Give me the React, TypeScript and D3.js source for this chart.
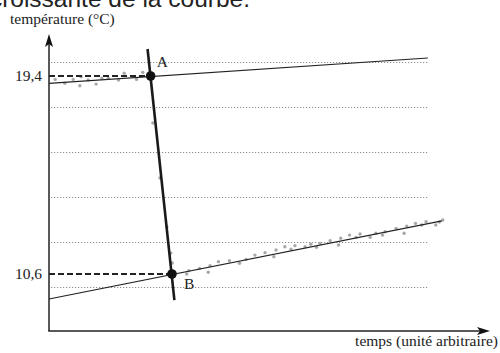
import * as d3 from "d3";
import { useRef, useEffect } from "react";

// temps en unités arbitraires, température en °C
const upperTimes = [1.4, 3.6, 5.5, 7.0, 7.3, 8.9, 10.7, 12.0, 13.5, 15.8, 17.1, 19.9, 21.3];
const upperTemps = [19.25, 19.08, 19.25, 18.97, 19.37, 19.22, 19.04, 19.3, 19.3, 19.22, 19.52, 19.25, 19.56];

const dropTimes = [23.6, 25.2, 26.8, 27.7, 28.0];
const dropTemps = [17.31, 14.87, 12.69, 11.53, 11.09];

const lowerTimes = [31.3, 31.8, 34.2, 36.2, 36.6, 38.5, 41.0, 43.3, 44.8, 46.8, 49.1, 51.1, 51.6, 53.6, 55.0, 55.9, 58.2, 59.5, 60.8, 61.6, 63.9, 65.8, 66.3, 68.3, 69.8, 70.7, 73.0, 74.3, 75.8, 76.4, 78.9, 80.7, 81.3, 83.3, 84.7, 85.7, 87.9, 88.7, 89.5];
const lowerTemps = [10.6, 10.75, 10.85, 10.68, 10.97, 11.15, 11.19, 11.08, 11.25, 11.44, 11.55, 11.37, 11.67, 11.81, 11.7, 11.86, 11.81, 11.92, 11.79, 11.96, 12.08, 11.89, 12.19, 12.33, 12.23, 12.38, 12.23, 12.41, 12.33, 12.48, 12.63, 12.41, 12.73, 12.85, 12.78, 12.92, 12.78, 12.91, 13.0];

// droites tracées
const upperFit = [[0, 19.07], [86.1, 20.2]];
const lowerFit = [[0, 9.49], [89.3, 12.96]];
const steepFit = [[22.4, 20.6], [28.5, 9.44]];

const gridTemps = [20, 18, 16, 14, 12, 10];
const pointA = { t: 23.1, T: 19.4, label: "A", tick: "19,4" };
const pointB = { t: 27.95, T: 10.6, label: "B", tick: "10,6" };

const width = 500;
const height = 353;
const serif = "'Liberation Serif', serif";

const App = () => {
    const ref = useRef<SVGSVGElement>(null);

    useEffect(() => {
        const svg = d3.select(ref.current);
        svg.selectAll("*").remove();

        const x = d3.scaleLinear().domain([0, 100]).range([49, 489]);
        const y = d3.scaleLinear().domain([10, 20]).range([287.5, 62.5]);
        const x0 = x(0);
        const yBottom = 331;

        // texte coupé en haut
        svg.append("text")
            .attr("x", 250).attr("y", 6.5)
            .attr("text-anchor", "end")
            .attr("font-family", "'Liberation Sans', Arial, sans-serif")
            .attr("font-size", 24.5)
            .attr("fill", "#222")
            .text("croissante de la courbe.");

        // lignes pointillées
        svg.append("g")
            .selectAll("line")
            .data(gridTemps)
            .enter()
            .append("line")
            .attr("x1", x(0.5)).attr("x2", x(86.1))
            .attr("y1", d => y(d)).attr("y2", d => y(d))
            .attr("stroke", "#777")
            .attr("stroke-width", 1)
            .attr("stroke-dasharray", "1 2");

        // axes
        svg.append("line")
            .attr("x1", x0).attr("x2", x0)
            .attr("y1", yBottom).attr("y2", 40)
            .attr("stroke", "#222").attr("stroke-width", 1.5);
        svg.append("line")
            .attr("x1", x0 - 0.75).attr("x2", 482)
            .attr("y1", yBottom).attr("y2", yBottom)
            .attr("stroke", "#222").attr("stroke-width", 1.5);
        svg.append("path")
            .attr("d", `M${x0},34 L${x0 + 4},47 L${x0},44 L${x0 - 4},47 Z`)
            .attr("fill", "#111");
        svg.append("path")
            .attr("d", `M490,${yBottom} L477,${yBottom - 4} L480,${yBottom} L477,${yBottom + 4} Z`)
            .attr("fill", "#111");

        svg.append("text")
            .attr("x", 10).attr("y", 24)
            .attr("font-family", serif).attr("font-size", 15.5).attr("fill", "#222")
            .text("température (°C)");
        svg.append("text")
            .attr("x", 498).attr("y", 346)
            .attr("text-anchor", "end")
            .attr("font-family", serif).attr("font-size", 15.5).attr("fill", "#222")
            .text("temps (unité arbitraire)");

        // points de mesure
        const pts = [
            ...upperTimes.map((t, i) => [t, upperTemps[i]]),
            ...dropTimes.map((t, i) => [t, dropTemps[i]]),
            ...lowerTimes.map((t, i) => [t, lowerTemps[i]]),
        ];
        svg.append("g")
            .selectAll("circle")
            .data(pts)
            .enter()
            .append("circle")
            .attr("cx", d => x(d[0]))
            .attr("cy", d => y(d[1]))
            .attr("r", 1.7)
            .attr("fill", "#a8a8a8");

        const line = d3.line<number[]>().x(d => x(d[0])).y(d => y(d[1]));
        svg.append("path").attr("d", line(upperFit)).attr("stroke", "#222").attr("stroke-width", 1.2).attr("fill", "none");
        svg.append("path").attr("d", line(lowerFit)).attr("stroke", "#222").attr("stroke-width", 1.2).attr("fill", "none");
        svg.append("path").attr("d", line(steepFit)).attr("stroke", "#1a1a1a").attr("stroke-width", 2.6).attr("fill", "none");

        // points A et B
        [pointA, pointB].forEach((p, i) => {
            svg.append("line")
                .attr("x1", x0).attr("x2", x(p.t))
                .attr("y1", y(p.T)).attr("y2", y(p.T))
                .attr("stroke", "#222").attr("stroke-width", 2)
                .attr("stroke-dasharray", "6 3");
            svg.append("circle")
                .attr("cx", x(p.t)).attr("cy", y(p.T))
                .attr("r", 4.8).attr("fill", "#111");
            svg.append("text")
                .attr("x", x0 - 7).attr("y", y(p.T) + 5)
                .attr("text-anchor", "end")
                .attr("font-family", serif).attr("font-size", 15.5).attr("fill", "#222")
                .text(p.tick);
            svg.append("text")
                .attr("x", i === 0 ? x(p.t) + 6 : x(p.t) + 12)
                .attr("y", i === 0 ? y(p.T) - 9 : y(p.T) + 15)
                .attr("font-family", serif).attr("font-size", 15.5).attr("fill", "#222")
                .text(p.label);
        });
    }, []);

    return (
        <div style={{ position: "absolute", left: 0, top: 0 }}>
            <svg ref={ref} width={width} height={height} style={{ display: "block", background: "#fff" }}></svg>
        </div>
    );
};

export default App;
